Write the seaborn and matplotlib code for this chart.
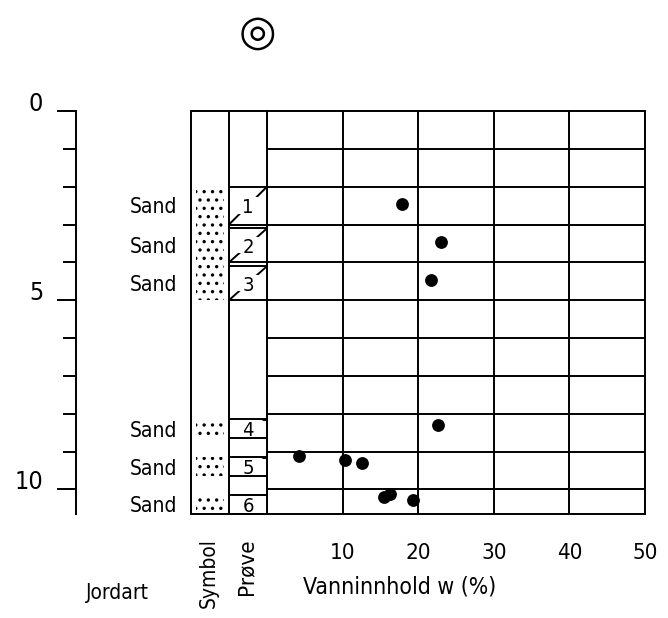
import matplotlib
matplotlib.use("Agg")
import matplotlib.pyplot as plt
import seaborn as sns
import pandas as pd
from matplotlib.patches import Rectangle
from matplotlib.ticker import FixedLocator, NullFormatter

# ---------------- data ----------------
soil_types = ["Sand", "Sand", "Sand", "Sand", "Sand", "Sand"]
sample_ids = ["1", "2", "3", "4", "5", "6"]
sample_top = [2.0, 3.1, 4.1, 8.15, 9.15, 10.15]
sample_bottom = [3.0, 4.0, 5.0, 8.65, 9.65, 10.65]
symbol_top = [2.0, 8.15, 9.15, 10.15]
symbol_bottom = [5.0, 8.65, 9.65, 10.65]
w_depth = [2.46, 3.46, 4.46, 8.31, 9.11, 9.21, 9.30, 10.11, 10.20, 10.29]
w_percent = [17.8, 23.0, 21.7, 22.6, 4.2, 10.3, 12.6, 16.3, 15.5, 19.3]
w_ticks = [10, 20, 30, 40, 50]
w_ticklabels = ["10", "20", "30", "40", "50"]
depth_major = [0, 5, 10]
depth_major_labels = ["0", "5", "10"]
depth_minor = [1, 2, 3, 4, 6, 7, 8, 9]
grid_depths = [1, 2, 3, 4, 5, 6, 7, 8, 9, 10]
max_depth = 10.65
w_max = 50

df = pd.DataFrame({"depth": w_depth, "w": w_percent})

# ---------------- style ----------------
sns.set_theme(style="white")
plt.rcParams["font.family"] = ["DejaVu Sans"]
plt.rcParams["font.stretch"] = "condensed"
plt.rcParams["text.color"] = "black"
plt.rcParams["xtick.color"] = "black"
plt.rcParams["ytick.color"] = "black"
plt.rcParams["axes.labelcolor"] = "black"
plt.rcParams["hatch.linewidth"] = 1.2
LW = 1.4
K = "black"

W, H = 668, 618
fig = plt.figure(figsize=(W / 100, H / 100), dpi=100)

top_px, bot_px = 111, 514
fb = (H - bot_px) / H
fh = (bot_px - top_px) / H

ax = fig.add_axes([267 / W, fb, (645 - 267) / W, fh])
ax_col = fig.add_axes([191 / W, fb, (267 - 191) / W, fh])
ax_d = fig.add_axes([76 / W, fb, 2 / W, fh])

# ---------------- main plot ----------------
sns.scatterplot(data=df, x="w", y="depth", ax=ax, color=K, s=85,
                edgecolor=K, linewidth=0, zorder=5, clip_on=False)
ax.set_xlim(0, w_max)
ax.set_ylim(max_depth, 0)
ax.set_xticks(w_ticks)
ax.set_xticklabels(w_ticklabels, fontsize=16)
ax.set_yticks(grid_depths)
ax.yaxis.set_major_formatter(NullFormatter())
ax.tick_params(axis="both", length=0)
ax.tick_params(axis="x", pad=21)
ax.grid(True, color=K, linewidth=LW)
for s in ax.spines.values():
    s.set_visible(True)
    s.set_color(K)
    s.set_linewidth(LW)
ax.set_ylabel("")
ax.set_xlabel("Vanninnhold w (%)", fontsize=16.5)
ax.xaxis.set_label_coords((400 - 267) / (645 - 267), -(587 - bot_px) / (bot_px - top_px))
ax.xaxis.label.set_va("center")

# ---------------- symbol / sample columns ----------------
ax_col.set_xlim(0, 2)
ax_col.set_ylim(max_depth, 0)
ax_col.set_xticks([])
ax_col.set_yticks([])
for s in ax_col.spines.values():
    s.set_visible(True)
    s.set_color(K)
    s.set_linewidth(LW)
ax_col.axvline(1, color=K, lw=LW, zorder=4)

for t, b in zip(symbol_top, symbol_bottom):
    ax_col.add_patch(Rectangle((0.14, t), 0.72, b - t, fill=False, hatch="..",
                               edgecolor=K, linewidth=0, zorder=1))

for sid, soil, t, b in zip(sample_ids, soil_types, sample_top, sample_bottom):
    mid = (t + b) / 2
    ax_col.hlines([t, b], 1, 2, color=K, lw=LW, zorder=4)
    ax_col.plot([1, 2], [b, t], color=K, lw=LW, zorder=2, solid_capstyle="butt")
    ax_col.add_patch(Rectangle((1.03, mid - 0.215), 0.94, 0.43, facecolor="white",
                               edgecolor="none", zorder=3))
    ax_col.text(1.5, mid + 0.05, sid, ha="center", va="center", fontsize=14.5, zorder=5)
    ax_col.text(-0.37, mid + 0.05, soil, ha="right", va="center", fontsize=15,
                clip_on=False)

# ---------------- depth axis ----------------
ax_d.set_ylim(max_depth, 0)
ax_d.set_xticks([])
for k in ["top", "right", "bottom"]:
    ax_d.spines[k].set_visible(False)
ax_d.spines["left"].set_color(K)
ax_d.spines["left"].set_linewidth(LW)
ax_d.patch.set_alpha(0)
ax_d.yaxis.set_major_locator(FixedLocator(depth_major))
ax_d.yaxis.set_minor_locator(FixedLocator(depth_minor))
ax_d.set_yticklabels(depth_major_labels, fontsize=18)
ax_d.yaxis.set_minor_formatter(NullFormatter())
ax_d.tick_params(axis="y", which="major", left=True, direction="out", length=13.7,
                 width=LW, color=K, pad=10)
ax_d.tick_params(axis="y", which="minor", left=True, direction="out", length=9.4,
                 width=LW, color=K)
for lab in ax_d.get_yticklabels():
    lab.set_va("baseline")

# ---------------- header / footer texts ----------------
fig.text(117 / W, 1 - 593 / H, "Jordart", ha="center", va="center", fontsize=15)
fig.text(209 / W, 1 - 538 / H, "Symbol", ha="center", va="top", rotation=90, fontsize=15)
fig.text(246 / W, 1 - 538 / H, "Prøve", ha="center", va="top", rotation=90, fontsize=16)
fig.text(257 / W, 1 - 33 / H, "◎", ha="center", va="center", fontsize=31,
         family=["DejaVu Sans"], fontstretch="normal")

fig.savefig("out.png", dpi=100, facecolor="white")
